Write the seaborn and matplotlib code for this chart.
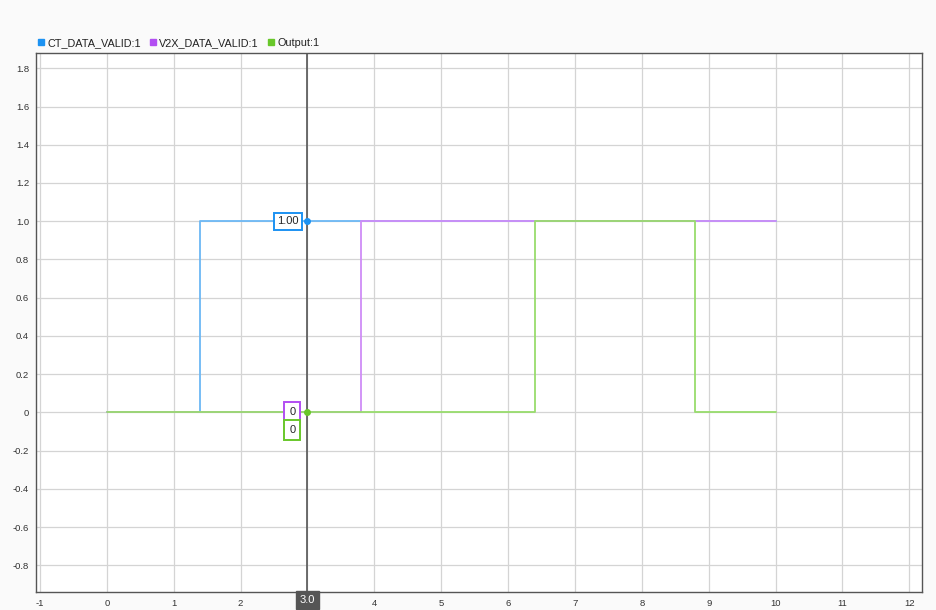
import matplotlib
matplotlib.use("Agg")
import matplotlib.pyplot as plt
from matplotlib.lines import Line2D
import numpy as np
import pandas as pd
import seaborn as sns

# signal step data (time, value), held until next change
ct_time = [0, 1.4, 10]
ct_value = [0, 1, 1]
v2x_time = [0, 3.8, 10]
v2x_value = [0, 1, 1]
out_time = [0, 6.4, 8.8, 10]
out_value = [0, 1, 0, 0]

names = ["CT_DATA_VALID:1", "V2X_DATA_VALID:1", "Output:1"]
line_colors = ["#6cb8f5", "#cf8cf7", "#98dc6c"]
key_colors = ["#1c92f2", "#b24ef2", "#68c72a"]

cursor_x = 3.0
cursor_labels = ["1.00", "0", "0"]
x_ticks = list(range(-1, 13))
y_ticks = [-0.8, -0.6, -0.4, -0.2, 0, 0.2, 0.4, 0.6, 0.8, 1.0, 1.2, 1.4, 1.6, 1.8]

sns.set_style("white")
plt.rcParams['font.family'] = ['Liberation Sans', 'DejaVu Sans']

fig = plt.figure(figsize=(9.36, 6.10), dpi=100, facecolor="#fafafa")
ax = fig.add_axes([36 / 936, 18 / 610, 886 / 936, 539 / 610])
ax.set_facecolor("white")

series = [(ct_time, ct_value), (v2x_time, v2x_value), (out_time, out_value)]
for (t, v), c in zip(series, line_colors):
    df = pd.DataFrame({"t": t, "v": v})
    sns.lineplot(data=df, x="t", y="v", ax=ax, color=c, lw=1.3,
                 drawstyle="steps-post", zorder=3)

ax.set_xlim(-1.06, 12.19)
ax.set_ylim(-0.94, 1.88)
ax.set_xticks(x_ticks)
ax.set_yticks(y_ticks)
# the cursor readout box sits over the "3" tick label
ax.set_xticklabels(["" if x == cursor_x else str(x) for x in x_ticks])
ax.set_yticklabels(["0" if abs(y) < 1e-9 else f"{y:.1f}" for y in y_ticks])
ax.set_xlabel("")
ax.set_ylabel("")
ax.grid(True, color="#d4d4d4", lw=0.9)
ax.tick_params(axis="both", labelsize=6.8, colors="#333333", length=3,
               width=0.8, direction="out", pad=2)
for s in ax.spines.values():
    s.set_color("#555555")
    s.set_linewidth(1.0)

# cursor
ax.axvline(cursor_x, color="#555555", lw=1.2, zorder=4)
ax.plot([cursor_x], [1], "o", color=key_colors[0], ms=4, zorder=5)
ax.plot([cursor_x], [0], "o", color=key_colors[2], ms=4, zorder=5)

ax.annotate(cursor_labels[0], xy=(cursor_x, 1), xytext=(-9, 0),
            textcoords="offset pixels", ha="right", va="center", fontsize=8,
            bbox=dict(ec=key_colors[0], boxstyle="square,pad=0.3",
                      fc="white", lw=1.4), zorder=6)
ax.annotate(cursor_labels[1], xy=(cursor_x, 0), xytext=(-12, 0),
            textcoords="offset pixels", ha="right", va="center", fontsize=8,
            bbox=dict(ec=key_colors[1], boxstyle="square,pad=0.45", fc="white", lw=1.4),
            zorder=6)
ax.annotate(cursor_labels[2], xy=(cursor_x, 0), xytext=(-12, -18),
            textcoords="offset pixels", ha="right", va="center", fontsize=8,
            bbox=dict(ec=key_colors[2], boxstyle="square,pad=0.45", fc="white", lw=1.4),
            zorder=6)
ax.annotate(f"{cursor_x:.1f}", xy=(cursor_x, 0), xycoords=("data", "axes fraction"),
            xytext=(0, -8), textcoords="offset pixels", ha="center", va="center",
            fontsize=8, color="white",
            bbox=dict(boxstyle="square,pad=0.35", fc="#555555", ec="#555555"),
            zorder=6, annotation_clip=False)

# legend
handles = [Line2D([], [], ls="", marker="s", ms=5, color=c) for c in key_colors]
fig.legend(handles, names, loc="lower left", bbox_to_anchor=(31 / 936, 558 / 610),
           ncol=3, frameon=False, fontsize=7.8, handletextpad=0.1,
           columnspacing=0.6, handlelength=1.0, borderaxespad=0,
           labelcolor="#222222")

fig.savefig("out.png", dpi=100, facecolor=fig.get_facecolor())
